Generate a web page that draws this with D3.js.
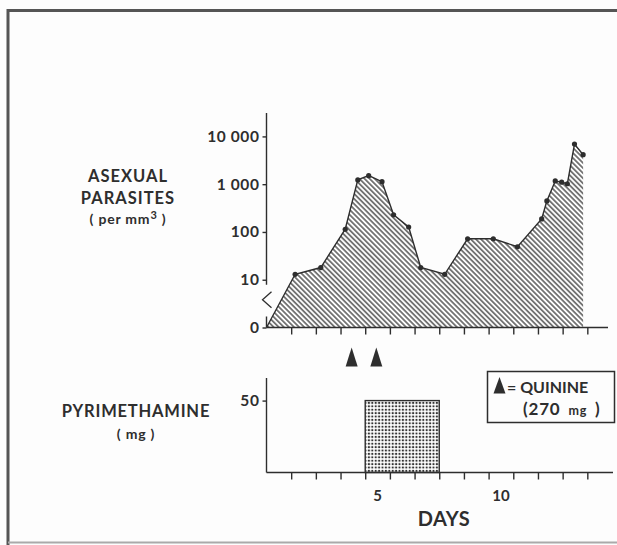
<!DOCTYPE html>
<html>
<head>
<meta charset="utf-8">
<script src="https://cdn.jsdelivr.net/npm/d3@7"></script>
<style>
  html, body { margin: 0; padding: 0; background: #fff; }
  svg { display: block; }
  text { font-family: Lato, "DejaVu Sans", sans-serif; fill: #2e2e2e; }
</style>
</head>
<body>
<svg id="chart" width="617" height="545"></svg>
<script>
// Parasite counts (per mm3) at each sampling time (days); 0 sits on the axis floor
const sampleDays = [0, 1.16, 2.20, 3.19, 3.70, 4.14, 4.68, 5.15, 5.76, 6.25, 7.22, 8.15, 9.19, 10.17, 11.15, 11.36, 11.70, 11.96, 12.19, 12.48, 12.83];
const parasites  = [0, 13, 18, 114, 1230, 1510, 1130, 228, 127, 18, 13, 72, 72, 49, 187, 446, 1170, 1100, 1020, 6900, 4140];

// Quinine doses (270 mg each)
const quinineDays = [3.45, 4.45];

// Pyrimethamine course
const pyrStart = 4, pyrEnd = 7, pyrDose = 50;

// Axis ticks
const dayTicks = d3.range(1, 14);
const dayLabels = [5, 10];
const parasiteTicks = [1, 10, 100, 1000, 10000];
const parasiteTickLabels = ["0", "10", "100", "1 000", "10 000"];
const doseTicks = [50];

const svg = d3.select("#chart");
const ink = "#2e2e2e";

// frame
svg.append("rect").attr("x", 0).attr("y", 0).attr("width", 617).attr("height", 545).attr("fill", "#fdfdfd");
svg.append("path").attr("d", "M8,545 V10.5 H617").attr("fill", "none").attr("stroke", "#555").attr("stroke-width", 3);
svg.append("line").attr("x1", 8).attr("x2", 617).attr("y1", 542.5).attr("y2", 542.5).attr("stroke", "#aaa").attr("stroke-width", 2);

// patterns
const defs = svg.append("defs");
const hatch = defs.append("pattern").attr("id", "hatch").attr("patternUnits", "userSpaceOnUse")
  .attr("width", 3.6).attr("height", 3.6).attr("patternTransform", "rotate(45)");
hatch.append("line").attr("x1", 0).attr("x2", 3.6).attr("y1", 1.8).attr("y2", 1.8)
  .attr("stroke", "#4a4a4a").attr("stroke-width", 1.4);

const dots = defs.append("pattern").attr("id", "dots").attr("patternUnits", "userSpaceOnUse")
  .attr("width", 3.4).attr("height", 3.4);
dots.append("rect").attr("width", 3.4).attr("height", 3.4).attr("fill", "#fff");
dots.append("circle").attr("cx", 1.7).attr("cy", 1.7).attr("r", 1.15).attr("fill", "#333");

// scales
const x = d3.scaleLinear().domain([0, 14]).range([266.5, 612]);
const yP = d3.scaleLog().domain([1, Math.pow(10, 4.49)]).range([327.5, 113]);
const yD = d3.scaleLinear().domain([0, 65.7]).range([472.5, 378]);

const pts = sampleDays.map((d, i) => ({ day: d, v: Math.max(parasites[i], 1) }));

// ---------- parasite panel ----------
const area = d3.area().x(d => x(d.day)).y0(yP(1)).y1(d => yP(d.v));
svg.append("path").datum(pts).attr("d", area).attr("fill", "url(#hatch)");

const line = d3.line().x(d => x(d.day)).y(d => yP(d.v));
svg.append("path").datum(pts).attr("d", line).attr("fill", "none")
  .attr("stroke", ink).attr("stroke-width", 1.4);

svg.append("g").selectAll("circle").data(pts.slice(1)).join("circle")
  .attr("cx", d => x(d.day)).attr("cy", d => yP(d.v)).attr("r", 2.6).attr("fill", ink);

// x axis (top panel)
const xAxisTop = svg.append("g").attr("transform", `translate(0,${yP(1)})`)
  .call(d3.axisBottom(x).tickValues(dayTicks).tickFormat("").tickSize(7).tickSizeOuter(0));
xAxisTop.select(".domain").attr("d", `M${x(0)},0H608`);

// y axis (log) with a break between 0 and 10
const yAxisTop = svg.append("g").attr("transform", `translate(${x(0)},0)`)
  .call(d3.axisLeft(yP).tickValues(parasiteTicks)
    .tickFormat((d, i) => parasiteTickLabels[i]).tickSize(4).tickPadding(3).tickSizeOuter(0));
yAxisTop.select(".domain").attr("d", `M0,113V${yP(10) + 5}M0,${yP(1) - 11}V${yP(1)}`);
svg.append("path")
  .attr("d", `M${x(0) + 5},${yP(10) + 12}L${x(0) - 4},${yP(10) + 20}L${x(0) + 5},${yP(10) + 28}`)
  .attr("fill", "none").attr("stroke", ink).attr("stroke-width", 1.3);

// ---------- quinine markers ----------
svg.append("g").selectAll("path").data(quinineDays).join("path")
  .attr("d", d => `M${x(d)},347.5L${x(d) + 6},366.5L${x(d) - 6},366.5Z`)
  .attr("fill", ink);

// ---------- pyrimethamine panel ----------
svg.append("rect")
  .attr("x", x(pyrStart)).attr("y", yD(pyrDose))
  .attr("width", x(pyrEnd) - x(pyrStart)).attr("height", yD(0) - yD(pyrDose))
  .attr("fill", "url(#dots)").attr("stroke", ink).attr("stroke-width", 1.4);

const xAxisBot = svg.append("g").attr("transform", `translate(0,${yD(0)})`)
  .call(d3.axisBottom(x).tickValues(dayTicks).tickFormat("").tickSize(7).tickSizeOuter(0));
xAxisBot.select(".domain").attr("d", `M${x(0)},0H613`);

const yAxisBot = svg.append("g").attr("transform", `translate(${x(0)},0)`)
  .call(d3.axisLeft(yD).tickValues(doseTicks).tickSize(4).tickPadding(3).tickSizeOuter(0));
yAxisBot.select(".domain").attr("d", `M0,378V${yD(0)}`);

// axis styling
svg.selectAll(".domain, .tick line").attr("stroke", ink).attr("stroke-width", 1.4);
svg.selectAll(".tick text").attr("font-size", 15.5).attr("font-weight", 700)
  .attr("letter-spacing", 0.6).attr("fill", ink).style("font-family", "Lato, sans-serif");

// day labels sit between ticks
svg.append("g").selectAll("text").data(dayLabels).join("text")
  .attr("x", d => x(d - 0.5)).attr("y", 500.5).attr("text-anchor", "middle")
  .attr("font-size", 15).attr("font-weight", 700).text(d => d);

svg.append("text").attr("x", 444).attr("y", 526).attr("text-anchor", "middle")
  .attr("font-size", 20).attr("font-weight", 700).attr("letter-spacing", 0.5).text("DAYS");

// ---------- side titles ----------
const side = svg.append("g").attr("text-anchor", "middle");
side.append("text").attr("x", 128).attr("y", 182).attr("font-size", 16.5).attr("font-weight", 700)
  .attr("letter-spacing", 1).text("ASEXUAL");
side.append("text").attr("x", 128).attr("y", 204).attr("font-size", 16.5).attr("font-weight", 700)
  .attr("letter-spacing", 1).text("PARASITES");
const per = side.append("text").attr("x", 128).attr("y", 224).attr("font-size", 14).attr("font-weight", 700)
  .attr("letter-spacing", 0.8);
per.append("tspan").text("( per mm");
per.append("tspan").attr("font-size", 11).attr("dy", -5).text("3");
per.append("tspan").attr("dy", 5).text(" )");

side.append("text").attr("x", 136).attr("y", 417).attr("font-size", 16.5).attr("font-weight", 700)
  .attr("letter-spacing", 0.8).text("PYRIMETHAMINE");
side.append("text").attr("x", 136).attr("y", 438.5).attr("font-size", 14).attr("font-weight", 700)
  .attr("letter-spacing", 0.8).text("( mg )");

// ---------- key ----------
const key = svg.append("g");
key.append("rect").attr("x", 487.5).attr("y", 371.5).attr("width", 127).attr("height", 51)
  .attr("fill", "none").attr("stroke", ink).attr("stroke-width", 1.5);
key.append("path").attr("d", "M499.5,377L505.5,393.5L493.5,393.5Z").attr("fill", ink);
key.append("text").attr("x", 507).attr("y", 392.5).attr("font-size", 16).attr("font-weight", 700)
  .text("= QUININE");
const dose = key.append("text").attr("x", 523).attr("y", 415).attr("font-size", 17).attr("font-weight", 700)
  .attr("letter-spacing", 0.8);
dose.append("tspan").text("(270 ");
dose.append("tspan").attr("font-size", 12.5).attr("dx", 3).text("mg");
dose.append("tspan").attr("dx", 3).text(" )");
</script>
</body>
</html>
